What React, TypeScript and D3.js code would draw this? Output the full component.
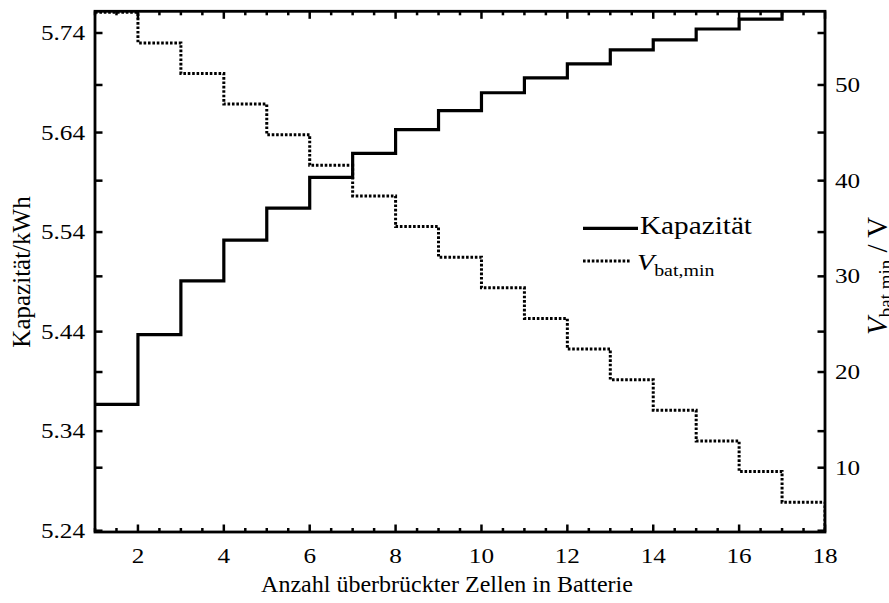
import React from "react";
import * as d3 from "d3";

const cells = [1, 2, 3, 4, 5, 6, 7, 8, 9, 10, 11, 12, 13, 14, 15, 16, 17, 18];
const kapazitaet = [5.367, 5.437, 5.491, 5.532, 5.564, 5.595, 5.619, 5.643, 5.662, 5.68, 5.695, 5.709, 5.723, 5.733, 5.744, 5.754, 5.763, 5.772];
const vbatMin = [57.6, 54.4, 51.2, 48.0, 44.8, 41.6, 38.4, 35.2, 32.0, 28.8, 25.6, 22.4, 19.2, 16.0, 12.8, 9.6, 6.4, 3.2];
const leftTicks = [5.24, 5.34, 5.44, 5.54, 5.64, 5.74];
const rightTicks = [10, 20, 30, 40, 50];
const xMajorTicks = [2, 4, 6, 8, 10, 12, 14, 16, 18];

const W = 889, H = 603;
const L = 95, R = 825, T = 11.3, B = 532;
const FONT = "Liberation Serif";

const x = d3.scaleLinear().domain([1, 18]).range([L, R]);
const yL = d3.scaleLinear().domain([5.2387, 5.7618]).range([B, T]);
const yR = d3.scaleLinear().domain([3.28, 57.7]).range([B, T]);

const xMinorTicks = d3.range(1, 18.001, 0.5).filter((v) => !xMajorTicks.includes(v));

const lineK = d3.line<number>().x((_, i) => x(cells[i])).y((d) => yL(d)).curve(d3.curveStepAfter);
const lineV = d3.line<number>().x((_, i) => x(cells[i])).y((d) => yR(d)).curve(d3.curveStepAfter);

const TS = 21; // tick font size
const SX = 1.2; // horizontal stretch

function T2({ x: tx, y: ty, anchor, size, sx = SX, children }: any) {
  return (
    <text transform={`translate(${tx},${ty}) scale(${sx},1)`} textAnchor={anchor} style={{ fontFamily: FONT, fontSize: size }} fill="#000">
      {children}
    </text>
  );
}

export default function App() {
  const tickW = 2.5;
  const yTickPos = [...leftTicks.map((v) => yL(v)), ...rightTicks.map((v) => yR(v))];
  return (
    <svg width={W} height={H} style={{ position: "absolute", left: 0, top: 0, background: "#fff", fontFamily: FONT }}>
      <defs>
        <clipPath id="plot">
          <rect x={L} y={T} width={R - L} height={B - T} />
        </clipPath>
      </defs>
      <rect x={0} y={0} width={W} height={H} fill="#fff" />
      <g clipPath="url(#plot)">
        <path d={lineV(vbatMin) || ""} fill="none" stroke="#000" strokeWidth={3} strokeDasharray="2.6,1.8" />
        <path d={lineK(kapazitaet) || ""} fill="none" stroke="#000" strokeWidth={3.2} />
      </g>
      {yTickPos.map((p, i) => (
        <g key={"yt" + i}>
          <line x1={L} x2={L + 7.5} y1={p} y2={p} stroke="#000" strokeWidth={tickW} />
          <line x1={R} x2={R - 7.5} y1={p} y2={p} stroke="#000" strokeWidth={tickW} />
        </g>
      ))}
      {xMajorTicks.map((v) => (
        <g key={"xM" + v}>
          <line x1={x(v)} x2={x(v)} y1={B} y2={B - 7.5} stroke="#000" strokeWidth={tickW} />
          <line x1={x(v)} x2={x(v)} y1={T} y2={T + 7.5} stroke="#000" strokeWidth={tickW} />
        </g>
      ))}
      {xMinorTicks.map((v) => (
        <g key={"xm" + v}>
          <line x1={x(v)} x2={x(v)} y1={B} y2={B - 4} stroke="#000" strokeWidth={tickW} />
          <line x1={x(v)} x2={x(v)} y1={T} y2={T + 4} stroke="#000" strokeWidth={tickW} />
        </g>
      ))}
      <rect x={L} y={T} width={R - L} height={B - T} fill="none" stroke="#000" strokeWidth={2.8} />
      {leftTicks.map((v) => (
        <T2 key={"ll" + v} x={85} y={yL(v) + 7} anchor="end" size={TS}>{v.toFixed(2)}</T2>
      ))}
      {rightTicks.map((v) => (
        <T2 key={"rl" + v} x={835} y={yR(v) + 7} anchor="start" size={TS}>{String(v)}</T2>
      ))}
      {xMajorTicks.map((v) => (
        <T2 key={"xl" + v} x={x(v)} y={563} anchor="middle" size={TS}>{String(v)}</T2>
      ))}
      <text x={447} y={592} textAnchor="middle" style={{ fontFamily: FONT, fontSize: 24 }}>Anzahl überbrückter Zellen in Batterie</text>
      <text transform="translate(30,272) rotate(-90)" textAnchor="middle" style={{ fontFamily: FONT, fontSize: 25 }}>Kapazität/kWh</text>
      <text transform="translate(887,335) rotate(-90)" textAnchor="start" style={{ fontFamily: FONT, fontSize: 29 }}>
        <tspan fontStyle="italic">V</tspan>
        <tspan style={{ fontSize: 19 }} dy={5}>bat,min</tspan>
        <tspan dy={-5}> / V</tspan>
      </text>
      <line x1={583} x2={638} y1={228.3} y2={228.3} stroke="#000" strokeWidth={3.2} />
      <T2 x={640} y={233.5} anchor="start" size={25} sx={1.17}>Kapazität</T2>
      <line x1={583} x2={631} y1={261} y2={261} stroke="#000" strokeWidth={3} strokeDasharray="2.6,1.8" />
      <text transform="translate(637,270) scale(1.17,1)" style={{ fontFamily: FONT, fontSize: 24 }}>
        <tspan fontStyle="italic">V</tspan>
        <tspan style={{ fontSize: 17 }} dy={6}>bat,min</tspan>
      </text>
    </svg>
  );
}
